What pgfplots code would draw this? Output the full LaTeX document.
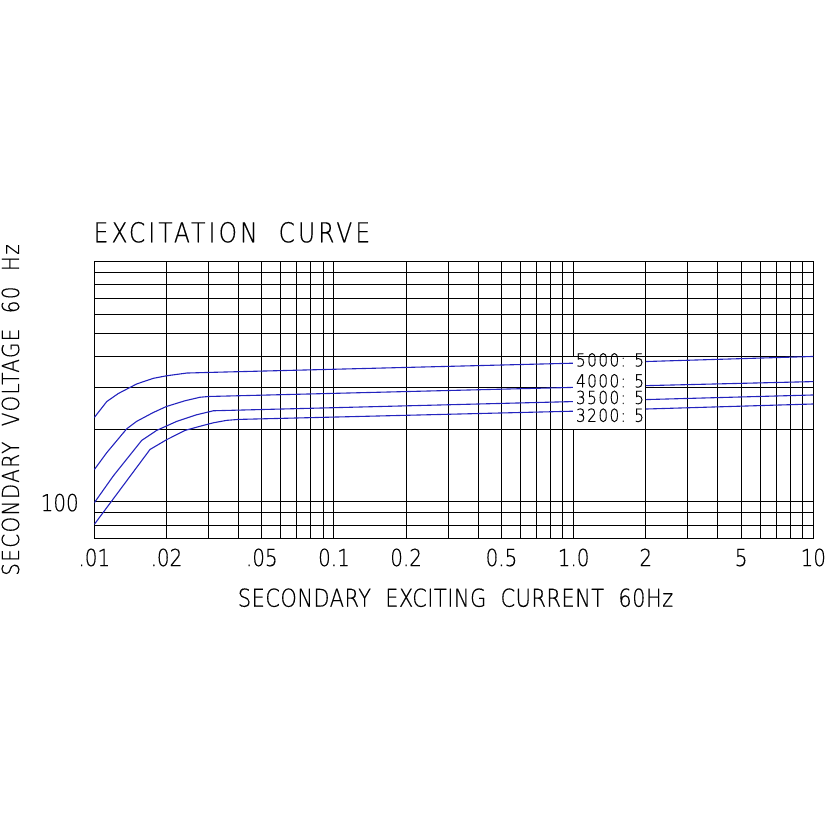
\documentclass[border=0pt]{standalone}
\usepackage{pgfplots}
\pgfplotsset{compat=1.18}
\usepackage{fontspec}
\setmainfont{DejaVu Sans}[UprightFont=* ExtraLight, FakeStretch=0.85, FakeBold=0.4]
\definecolor{curve}{RGB}{35,35,190}
\pgfplotsset{set layers}
\begin{document}
\begin{tikzpicture}
\begin{axis}[
  name=ax,
  scale only axis,
  width=359.5pt, height=138.85pt,
  xmode=log, ymode=log,
  xmin=0.01, xmax=10, ymin=70, ymax=1000,
  xtick={0.01,0.02,0.05,0.1,0.2,0.5,1,2,5,10},
  xticklabels={.01,.02,.05,0.1,0.2,0.5,1.0,2,5,10},
  minor xtick={0.03,0.04,0.06,0.07,0.08,0.09,0.3,0.4,0.6,0.7,0.8,0.9,3,4,6,7,8,9},
  ytick={100},
  yticklabels={100},
  minor ytick={70,80,90,200,300,400,500,600,700,800,900},
  grid=both,
  grid style={black, line width=0.5pt},
  major grid style={black, line width=0.5pt},
  minor grid style={black, line width=0.5pt},
  axis line style={black, line width=0.5pt},
  major tick length=0pt, minor tick length=0pt,
  tick style={draw=none},
  xticklabel style={font=\fontsize{11.7}{12}\selectfont, anchor=base, inner sep=0pt, yshift=-13.5pt},
  yticklabel style={font=\fontsize{11.7}{12}\selectfont, anchor=base east, inner sep=0pt, xshift=-7.6pt, yshift=-4.7pt},
]
% 5000:5
\addplot[curve, line width=0.55pt, mark=none] coordinates {(0.01,224) (0.01127,261) (0.0126,282) (0.01503,309) (0.01762,326) (0.02,334) (0.0243,343) (0.03,345) (1.0,377)};
\addplot[curve, line width=0.55pt, mark=none] coordinates {(2.0,383) (10,402)};
% 4000:5
\addplot[curve, line width=0.55pt, mark=none] coordinates {(0.01,136) (0.01127,160) (0.01365,201) (0.01503,216) (0.01762,235) (0.02,249) (0.0239,263) (0.0276,272) (0.03,274) (1.0,299)};
\addplot[curve, line width=0.55pt, mark=none] coordinates {(2.0,304) (10,316)};
% 3500:5
\addplot[curve, line width=0.55pt, mark=none] coordinates {(0.01,99) (0.012,128) (0.01577,180) (0.0182,198) (0.0221,216) (0.02674,230) (0.0314,239) (1.0,261)};
\addplot[curve, line width=0.55pt, mark=none] coordinates {(2.0,266) (10,278)};
% 3200:5
\addplot[curve, line width=0.55pt, mark=none] coordinates {(0.01,80.5) (0.01708,165) (0.02,181) (0.0239,198) (0.0276,206) (0.0314,213) (0.03566,218) (0.04,220) (1.0,238)};
\addplot[curve, line width=0.55pt, mark=none] coordinates {(2.0,243) (10,255)};
\begin{pgfonlayer}{axis foreground}
\fill[white] (axis cs:0.996,201) rectangle (axis cs:1.985,399);
\node[font=\fontsize{9}{10}\selectfont\addfontfeatures{LetterSpace=8}, anchor=base west, inner sep=0pt, xshift=1pt] at (axis cs:1.0,365.3) {5000: 5};
\node[font=\fontsize{9}{10}\selectfont\addfontfeatures{LetterSpace=8}, anchor=base west, inner sep=0pt, xshift=1pt] at (axis cs:1.0,299) {4000: 5};
\node[font=\fontsize{9}{10}\selectfont\addfontfeatures{LetterSpace=8}, anchor=base west, inner sep=0pt, xshift=1pt] at (axis cs:1.0,255) {3500: 5};
\node[font=\fontsize{9}{10}\selectfont\addfontfeatures{LetterSpace=8}, anchor=base west, inner sep=0pt, xshift=1pt] at (axis cs:1.0,215) {3200: 5};
\end{pgfonlayer}
\end{axis}
\node[font=\fontsize{13.7}{15}\selectfont\addfontfeatures{LetterSpace=11.5}, anchor=base west, inner sep=0pt] at ([shift={(-0.5pt,148.35pt)}]ax.south west) {EXCITATION\ \ CURVE};
\node[font=\fontsize{12.3}{14}\selectfont\addfontfeatures{LetterSpace=2}, anchor=base, inner sep=0pt] at ([shift={(0.85pt,-33.85pt)}]ax.south) {SECONDARY\ \ EXCITING\ \ CURRENT\ \ 60Hz};
\node[font=\fontsize{11.7}{14}\selectfont\addfontfeatures{LetterSpace=6}, anchor=base, inner sep=0pt, rotate=90] at ([shift={(-37.65pt,64.5pt)}]ax.south west) {SECONDARY\ \ VOLTAGE\ \ 60\ \ Hz};
\path ([shift={(-47.15pt,-145pt)}]ax.south west) rectangle ++(414.5pt,414.5pt);
\end{tikzpicture}
\end{document}
